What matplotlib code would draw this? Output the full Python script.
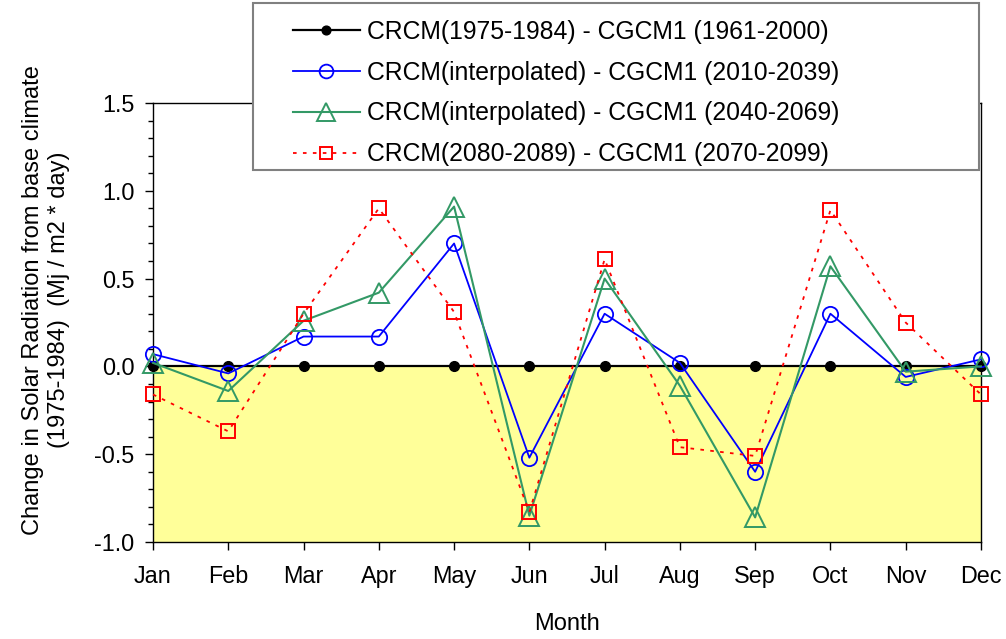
import matplotlib
matplotlib.use('Agg')
import matplotlib.pyplot as plt
from matplotlib.patches import Rectangle

plt.rcParams['font.family'] = ['Liberation Sans', 'DejaVu Sans']

# monthly change in solar radiation relative to the 1975-1984 base climate
months = ['Jan', 'Feb', 'Mar', 'Apr', 'May', 'Jun', 'Jul', 'Aug', 'Sep', 'Oct', 'Nov', 'Dec']
base = [0.0] * 12
interp_2010 = [0.07, -0.04, 0.17, 0.17, 0.70, -0.52, 0.30, 0.02, -0.60, 0.30, -0.06, 0.04]
interp_2040 = [0.02, -0.14, 0.26, 0.42, 0.91, -0.85, 0.50, -0.11, -0.86, 0.57, -0.03, 0.00]
crcm_2080 = [-0.16, -0.37, 0.30, 0.90, 0.31, -0.83, 0.61, -0.46, -0.51, 0.89, 0.25, -0.16]

labels = ['CRCM(1975-1984) - CGCM1 (1961-2000)',
          'CRCM(interpolated) - CGCM1 (2010-2039)',
          'CRCM(interpolated) - CGCM1 (2040-2069)',
          'CRCM(2080-2089) - CGCM1 (2070-2099)']

x = list(range(len(months)))

fig = plt.figure(figsize=(10.06, 6.39), dpi=100)
ax = fig.add_axes([0.1521, 0.1518, 0.823, 0.687])

# shade the negative half of the plot
ax.axhspan(-1.0, 0.0, color='#FFFF99', zorder=0, lw=0)

h1, = ax.plot(x, base, color='black', lw=1.6, marker='o', ms=7,
              clip_on=False, zorder=3)
h2, = ax.plot(x, interp_2010, color='#0000FF', lw=1.3, marker='o', ms=11,
              mfc='none', mew=1.3, clip_on=False, zorder=4)
h3, = ax.plot(x, interp_2040, color='#339966', lw=1.5, marker='^', ms=14,
              mfc='none', mew=1.4, clip_on=False, zorder=4)
h4, = ax.plot(x, crcm_2080, color='#FF0000', lw=1.3, ls=(0, (2, 3.5)),
              marker='s', ms=10, mfc='none', mew=1.4, clip_on=False, zorder=5)

ax.set_xlim(0, 11)
ax.set_ylim(-1.0, 1.5)
ax.set_xticks(x)
ax.set_xticklabels(months)
ax.set_yticks([-1.0, -0.5, 0.0, 0.5, 1.0, 1.5])
ax.set_yticklabels(['-1.0', '-0.5', '0.0', '0.5', '1.0', '1.5'])
ax.set_yticks([i / 10 for i in range(-10, 16)], minor=True)
ax.tick_params(axis='both', which='major', labelsize=16.8, length=5.5,
               width=1, direction='out')
ax.tick_params(axis='x', which='major', pad=11)
ax.tick_params(axis='y', which='major', pad=8)
ax.tick_params(axis='y', which='minor', length=3.5, width=1, direction='out')
for s in ax.spines.values():
    s.set_linewidth(1.0)

ax.set_xlabel('Month', fontsize=17, labelpad=18)
ax.set_ylabel('Change in Solar Radiation from base climate\n'
              '(1975-1984)  (Mj / m2 * day)', fontsize=17, linespacing=1.25)
ax.yaxis.set_label_coords(-0.1, 0.551)

# legend box sits over the top of the axes
box = Rectangle((0.2515, 0.734), 0.7215, 0.2615, transform=fig.transFigure,
                facecolor='white', edgecolor='#808080', lw=1.5, zorder=10)
fig.add_artist(box)
leg = fig.legend([h1, h2, h3, h4], labels, loc='upper left',
                 bbox_to_anchor=(0.274, 0.996), frameon=False, fontsize=17.8,
                 handlelength=2.7, handletextpad=0.3, labelspacing=0.68,
                 borderpad=0.2, markerscale=0.9)
leg.set_zorder(11)

fig.savefig('out.png', dpi=100)
